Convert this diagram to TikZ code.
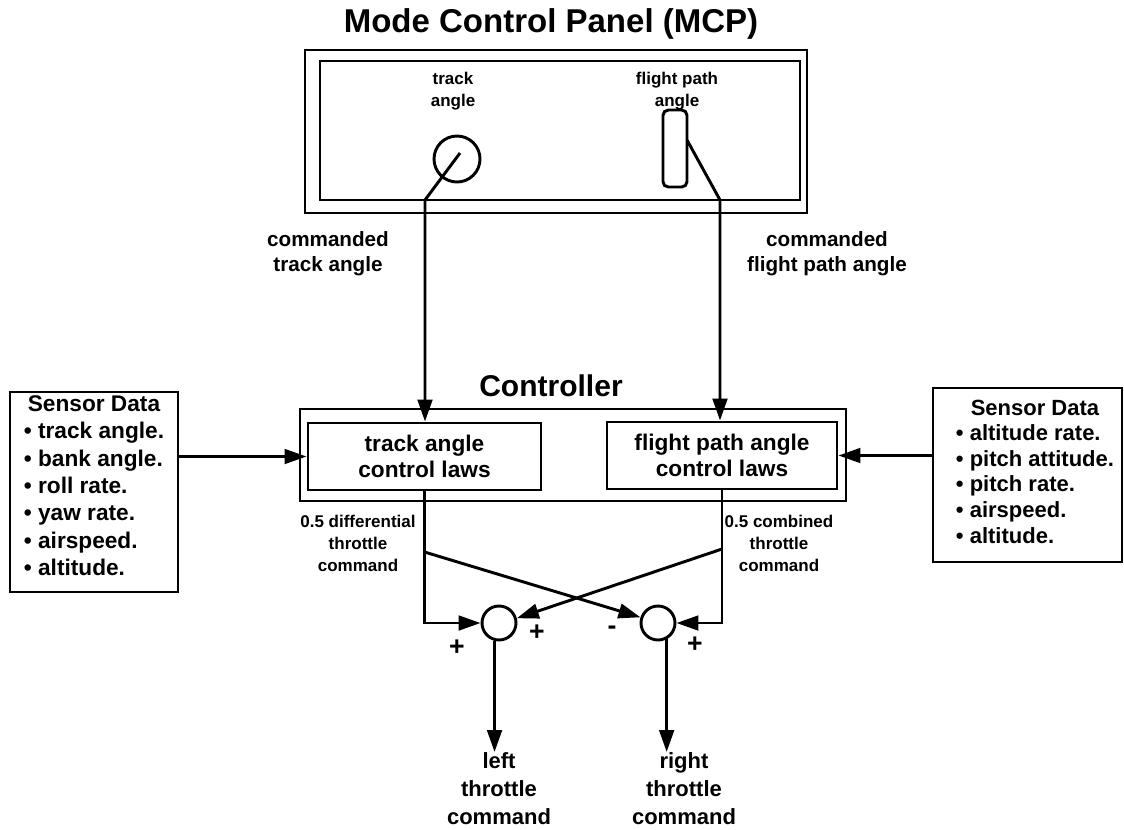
\documentclass[tikz,border=0pt]{standalone}
\usepackage{fontspec}
\setmainfont{Liberation Sans}
\usetikzlibrary{arrows.meta,fit}
\newcommand{\myfs}[2]{\fontsize{#1}{#2}\selectfont\bfseries}
\begin{document}
\begin{tikzpicture}[x=0.75pt,y=-0.75pt,
  lw/.style={line width=2.2pt},
  box/.style={draw,lw,rectangle,inner sep=0pt},
  conn/.style={lw,-{Triangle[length=16.5pt,width=11pt]}},
  txt/.style={inner sep=0pt,align=center},
  title/.style={txt,font=\myfs{24.75pt}{28pt}},
  small/.style={txt,font=\myfs{12.75pt}{16.5pt}},
  mid/.style={txt,font=\myfs{15.5pt}{19pt}},
  law/.style={txt,font=\myfs{17pt}{19pt}},
  big/.style={txt,font=\myfs{16.5pt}{21pt}},
  sign/.style={txt,font=\myfs{20pt}{22pt}},
  junction/.style={circle,draw,lw,minimum size=25.5pt,inner sep=0pt},
]
\useasboundingbox (0,0) rectangle (1124,829);

% MCP
\node[title] (mcptitle) at (551,24) {Mode Control Panel (MCP)};
\node[box,fit={(305,50)(807,213)}] (mcpout) {};
\node[box,fit={(320,61)(800,200)}] (mcpin) {};
\node[small] (tal) at (453,91) {track\\angle};
\node[small] (fpal) at (677,91) {flight path\\angle};
\node[circle,draw,lw,minimum size=34.5pt,inner sep=0pt] (knob) at (457,159) {};
\node[draw,lw,rounded corners=4pt,minimum width=18pt,minimum height=57.75pt,inner sep=0pt] (slider) at (675,148.5) {};
\coordinate (kp) at (460,153);
\coordinate (kb) at (425,200);
\coordinate (sp) at (687,140);
\coordinate (sb) at (720,200);

\node[mid] (cta) at (328,254) {commanded\\track angle};
\node[mid] (cfpa) at (827,254) {commanded\\flight path angle};

% Controller
\node[title,font=\myfs{22.5pt}{26pt}] (ctitle) at (551,386) {Controller};
\node[box,fit={(300,409)(846,501)}] (ctrl) {};
\node[box,fit={(308,423)(541,490)}] (tbox) {};
\node[law] (ttxt) at (tbox.center) {track angle\\control laws};
\node[box,fit={(607,422)(837,489)}] (fbox) {};
\node[law] (ftxt) at (fbox.center) {flight path angle\\control laws};

% Sensor boxes
\node[box,fit={(10,392)(178,592)}] (lsens) {};
\node[txt,font=\myfs{17pt}{20.6pt}] (ltxt) at (94,488) {\begin{tabular}{@{}l@{}}\multicolumn{1}{@{}c@{}}{Sensor Data}\\
• track angle.\\ • bank angle.\\ • roll rate.\\ • yaw rate.\\ • airspeed.\\ • altitude.\end{tabular}};
\node[box,fit={(933,388)(1122,562)}] (rsens) {};
\node[txt,font=\myfs{16.5pt}{19.2pt}] (rtxt) at (1035,474) {\begin{tabular}{@{}l@{}}\multicolumn{1}{@{}c@{}}{Sensor Data}\\
• altitude rate.\\ • pitch attitude.\\ • pitch rate.\\ • airspeed.\\ • altitude.\end{tabular}};

% command labels
\node[small] (dtc) at (358,543) {0.5 differential\\throttle\\command};
\node[small] (ctc) at (779,543) {0.5 combined\\throttle\\command};

% junctions
\node[junction] (ls) at (499,623) {};
\node[junction] (rs) at (658,623) {};
\node[sign] (p1) at (457,648) {+};
\node[sign] (p2) at (537,633) {+};
\node[sign] (m3) at (612,630) {-};
\node[sign] (p4) at (695,645) {+};

\node[big,anchor=north] (lcmd) at (499,752) {left\\throttle\\command};
\node[big,anchor=north] (rcmd) at (684,752) {right\\throttle\\command};

% connectors
\draw[conn] (kp) -- (kb) -- (kb |- tbox.north);
\draw[conn] (sp) -- (sb) -- (sb |- fbox.north);
\draw[conn] (lsens.east |- tbox.west) -- (tbox.west);
\draw[conn] (rsens.west |- fbox.east) -- (fbox.east);
\draw[conn] (tbox.south) -- (tbox.south |- ls.west) -- (ls.west);
\draw[conn] (fbox.south) -- (fbox.south |- rs.east) -- (rs.east);
\coordinate (tsplit) at (424.5,552);
\coordinate (fsplit) at (722,549);
\draw[conn] (tsplit) -- (rs.162);
\draw[conn] (fsplit) -- (ls.15);
\draw[conn] (ls.-104) -- (ls.-104 |- lcmd.north);
\draw[conn] (rs.-62) -- (rs.-62 |- rcmd.north);
\end{tikzpicture}
\end{document}
